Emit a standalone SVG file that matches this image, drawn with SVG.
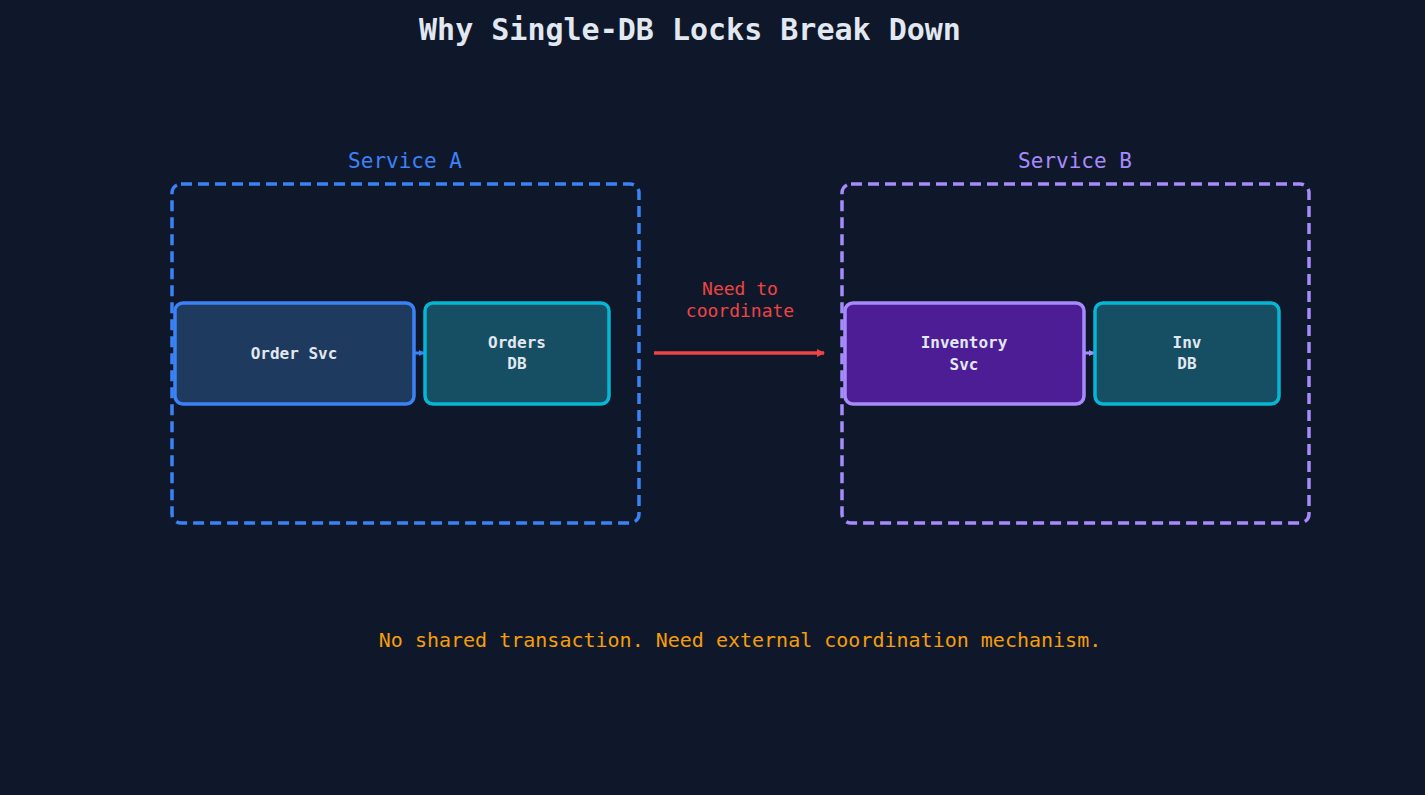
<svg xmlns="http://www.w3.org/2000/svg" width="1425" height="795" viewBox="0 0 1425 795">
<style>
text{font-family:"DejaVu Sans Mono","Liberation Mono",monospace;text-anchor:middle}
.lbl{fill:#e2e8f0;font-weight:bold;font-size:16px}
.db{fill:#164e63;stroke:#06b6d4;stroke-width:3.5}
</style>
<defs>
<marker id="ar" markerWidth="8" markerHeight="8" refX="7" refY="4" orient="auto" markerUnits="userSpaceOnUse"><path d="M0,0 L8,4 L0,8 z" fill="#ef4444"/></marker>
<marker id="sa" markerWidth="6" markerHeight="6" refX="5" refY="3" orient="auto" markerUnits="userSpaceOnUse"><path d="M0,0 L6,3 L0,6 z" fill="#3b82f6"/></marker>
<marker id="sb" markerWidth="6" markerHeight="6" refX="5" refY="3" orient="auto" markerUnits="userSpaceOnUse"><path d="M0,0 L6,3 L0,6 z" fill="#a78bfa"/></marker>
</defs>
<rect width="1425" height="795" fill="#0f172a"/>
<text x="690" y="40" font-size="30" font-weight="bold" fill="#e2e8f0">Why Single-DB Locks Break Down</text>
<g id="serviceA">
<text x="405" y="168" font-size="21" fill="#3b82f6">Service A</text>
<rect x="172" y="184" width="467" height="339" rx="9" fill="none" stroke="#3b82f6" stroke-width="3.5" stroke-dasharray="11 6"/>
</g>
<g id="serviceB">
<text x="1075" y="168" font-size="21" fill="#a78bfa">Service B</text>
<rect x="842" y="184" width="467" height="339" rx="9" fill="none" stroke="#a78bfa" stroke-width="3.5" stroke-dasharray="11 6"/>
</g>
<g id="connectors">
<line x1="414" y1="353" x2="424" y2="353" stroke="#3b82f6" stroke-width="3" marker-end="url(#sa)"/>
<line x1="1084" y1="353" x2="1094" y2="353" stroke="#a78bfa" stroke-width="3" marker-end="url(#sb)"/>
<line x1="654" y1="353" x2="824" y2="353" stroke="#ef4444" stroke-width="3.5" marker-end="url(#ar)"/>
<text x="740" y="295" font-size="18" fill="#ef4444">Need to</text>
<text x="740" y="317" font-size="18" fill="#ef4444">coordinate</text>
</g>
<g id="orderSvc">
<rect x="175" y="303" width="239" height="101" rx="8" fill="#1e3a5f" stroke="#3b82f6" stroke-width="3.5"/>
<text x="294" y="359" class="lbl" font-size="17">Order Svc</text>
</g>
<g id="ordersDB">
<rect x="425" y="303" width="184" height="101" rx="8" class="db"/>
<text x="517" y="348" class="lbl" font-size="15">Orders</text>
<text x="517" y="369" class="lbl" font-size="15">DB</text>
</g>
<g id="invSvc">
<rect x="845" y="303" width="239" height="101" rx="8" fill="#4c1d95" stroke="#a78bfa" stroke-width="3.5"/>
<text x="964" y="348" class="lbl" font-size="17">Inventory</text>
<text x="964" y="370" class="lbl" font-size="17">Svc</text>
</g>
<g id="invDB">
<rect x="1095" y="303" width="184" height="101" rx="8" class="db"/>
<text x="1187" y="348" class="lbl" font-size="15">Inv</text>
<text x="1187" y="369" class="lbl" font-size="15">DB</text>
</g>
<text x="740" y="647" font-size="20" fill="#f59e0b">No shared transaction. Need external coordination mechanism.</text>
</svg>
